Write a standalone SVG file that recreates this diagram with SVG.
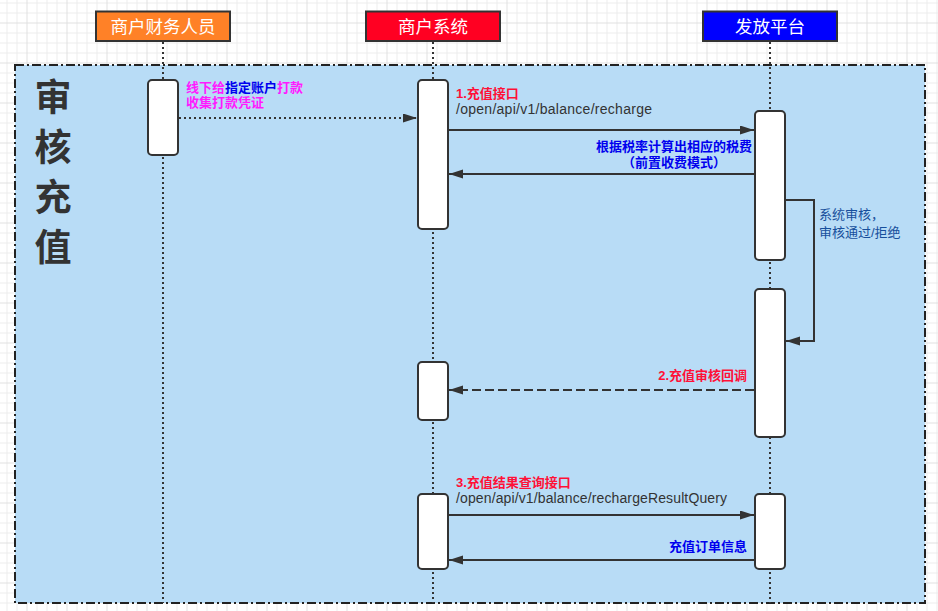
<svg xmlns="http://www.w3.org/2000/svg" width="938" height="611" viewBox="0 0 938 611">
<defs>
<pattern id="grid" patternUnits="userSpaceOnUse" x="6.5" y="2.5" width="40" height="40">
<rect width="40" height="40" fill="#ffffff"/>
<path d="M0.5,0V40M10.5,0V40M30.5,0V40M0,0.5H40M0,10.5H40M0,30.5H40" stroke="#ececec" stroke-width="1" fill="none"/>
<path d="M20.5,0V40M0,20.5H40" stroke="#e0e0e0" stroke-width="1" fill="none"/>
</pattern>
<marker id="ah" markerUnits="userSpaceOnUse" markerWidth="14" markerHeight="10" refX="14" refY="4.5" orient="auto">
<path d="M0,0L14,4.5L0,9z" fill="#333"/>
</marker>
</defs>
<style>
.hdr{stroke:#333;stroke-width:2}
.htxt{font-family:"Liberation Sans","Noto Sans CJK SC",sans-serif;font-size:17.5px;fill:#fff;text-anchor:middle}
.life{stroke:#333;stroke-width:2;stroke-dasharray:2 3;fill:none}
.act{fill:#fff;stroke:#333;stroke-width:2}
.msg{stroke:#333;stroke-width:2;fill:none;marker-end:url(#ah)}
.lbl{font-family:"Liberation Sans","Noto Sans CJK SC",sans-serif;font-size:13px}
.api{font-family:"Liberation Sans","Noto Sans CJK SC",sans-serif;font-size:14px;fill:#333}
.red{fill:#ff1037;font-weight:bold}
.blue{fill:#0000ee;font-weight:bold}
.mag{fill:#ff1aff;font-weight:bold}
.dblue{fill:#174f9c}
.big{font-family:"Noto Sans CJK SC",sans-serif;font-size:37px;fill:#333;text-anchor:middle;font-weight:bold}
</style>
<rect width="938" height="611" fill="url(#grid)"/>
<g id="frame">
<rect x="15" y="65" width="910" height="538" fill="#b8dcf6" stroke="#222" stroke-width="2" stroke-dasharray="9 3 2 3"/>
<text class="big" x="53" y="111">审</text>
<text class="big" x="53" y="161">核</text>
<text class="big" x="53" y="211">充</text>
<text class="big" x="53" y="261">值</text>
</g>
<g id="lifelines">
<line class="life" x1="163" y1="42" x2="163" y2="603"/>
<line class="life" x1="433" y1="42" x2="433" y2="603"/>
<line class="life" x1="770" y1="42" x2="770" y2="603"/>
</g>
<g id="finance">
<rect class="hdr" x="96" y="11.5" width="134" height="29.5" fill="#ff8127"/>
<text class="htxt" x="163" y="32.5">商户财务人员</text>
<rect class="act" x="148" y="80" width="30" height="75" rx="4"/>
</g>
<g id="merchant">
<rect class="hdr" x="366" y="11.5" width="134" height="29.5" fill="#ff0022"/>
<text class="htxt" x="433" y="32.5">商户系统</text>
<rect class="act" x="418" y="80" width="30" height="149" rx="4"/>
<rect class="act" x="418" y="362" width="30" height="58" rx="4"/>
<rect class="act" x="418" y="494" width="30" height="75" rx="4"/>
</g>
<g id="platform">
<rect class="hdr" x="703" y="11.5" width="134" height="29.5" fill="#0000ff"/>
<text class="htxt" x="770" y="32.5">发放平台</text>
<rect class="act" x="755" y="111" width="30" height="149" rx="4"/>
<rect class="act" x="755" y="289" width="30" height="148" rx="4"/>
<rect class="act" x="755" y="494" width="30" height="75" rx="4"/>
</g>
<g id="connectors">
<line class="msg" x1="179" y1="118" x2="417" y2="118" stroke-dasharray="2 3"/>
<line class="msg" x1="449" y1="130" x2="754" y2="130"/>
<line class="msg" x1="754" y1="174" x2="449" y2="174"/>
<polyline class="msg" points="786,200 814,200 814,341 786,341"/>
<line class="msg" x1="754" y1="390" x2="449" y2="390" stroke-dasharray="9 4"/>
<line class="msg" x1="449" y1="515" x2="754" y2="515"/>
<line class="msg" x1="754" y1="560" x2="449" y2="560"/>
</g>
<g id="labels">
<text class="lbl" x="186" y="91.5"><tspan class="mag">线下给</tspan><tspan class="blue">指定账户</tspan><tspan class="mag">打款</tspan></text>
<text class="lbl mag" x="186" y="106.5">收集打款凭证</text>
<text class="lbl red" x="456" y="98">1.充值接口</text>
<text class="api" x="456" y="113.5" textLength="196" lengthAdjust="spacing">/open/api/v1/balance/recharge</text>
<text class="lbl blue" x="674" y="151" text-anchor="middle">根据税率计算出相应的税费</text>
<text class="lbl blue" x="674" y="167" text-anchor="middle">（前置收费模式）</text>
<text class="lbl dblue" x="819" y="218.5">系统审核，</text>
<text class="lbl dblue" x="819" y="236.5">审核通过/拒绝</text>
<text class="lbl red" x="747" y="380" text-anchor="end">2.充值审核回调</text>
<text class="lbl red" x="456" y="487">3.充值结果查询接口</text>
<text class="api" x="456" y="502.5" textLength="271" lengthAdjust="spacing">/open/api/v1/balance/rechargeResultQuery</text>
<text class="lbl blue" x="747" y="551" text-anchor="end">充值订单信息</text>
</g>
</svg>
